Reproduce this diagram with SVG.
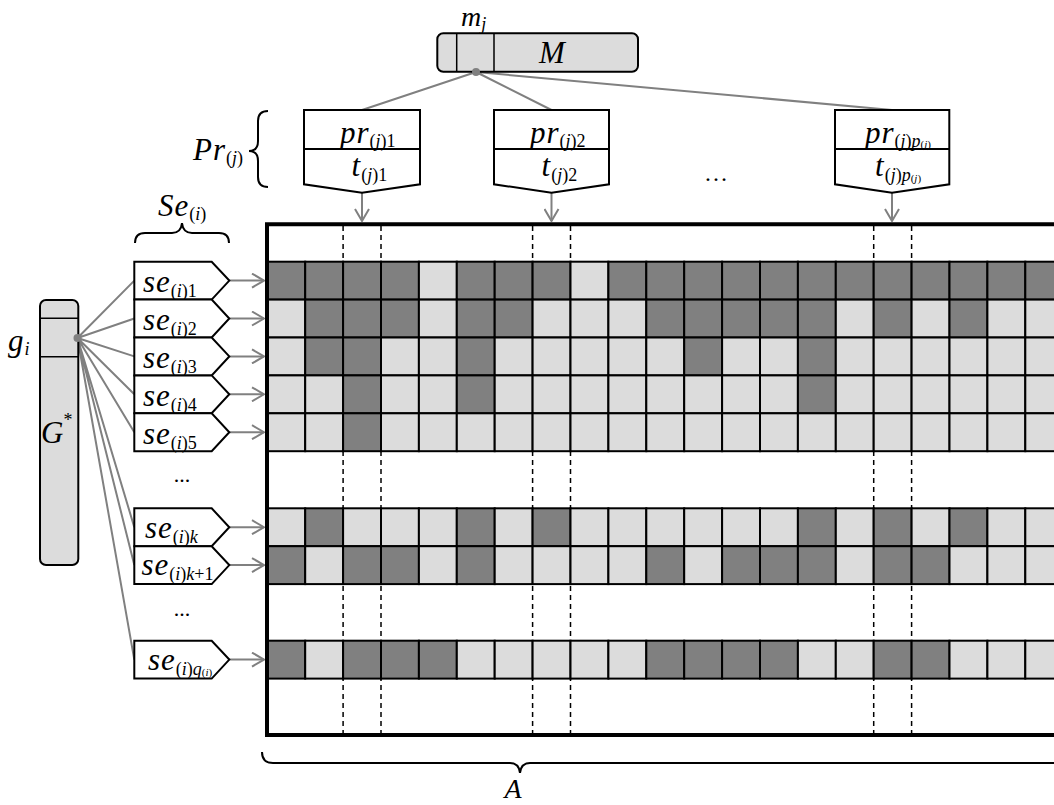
<svg xmlns="http://www.w3.org/2000/svg" width="1054" height="805" viewBox="0 0 1054 805">
<style>
text{font-family:"Liberation Serif",Tinos,"Times New Roman",Times,"DejaVu Serif",serif;fill:#000}
.it{font-style:italic}
.big{font-size:31px;font-style:italic;letter-spacing:1px}
.sub{font-size:18px}
.tiny{font-size:11px}
.d{fill:#808080;stroke:#000;stroke-width:2}
.l{fill:#dcdcdc;stroke:#000;stroke-width:2}
.box{fill:#fff;stroke:#000;stroke-width:2}
.gbox{fill:#dcdcdc;stroke:#000;stroke-width:2}
.con{stroke:#808080;stroke-width:2;fill:none}
.dash{stroke:#000;stroke-width:1.5;stroke-dasharray:5 4;fill:none}
.brace{stroke:#000;stroke-width:2;fill:none}
</style>
<defs>
<marker id="arr" viewBox="0 0 14 16" refX="13" refY="8" markerWidth="14" markerHeight="16" markerUnits="userSpaceOnUse" orient="auto">
<path d="M1,1 L13,8 L1,15" fill="none" stroke="#808080" stroke-width="2"/>
</marker>
</defs>
<rect width="1054" height="805" fill="#fff"/>

<!-- matrix A -->
<g id="matrix">
<path class="dash" d="M343.1,226 V733 M381,226 V733 M532.6,226 V733 M570.5,226 V733 M873.7,226 V733 M911.6,226 V733"/>
<g id="row1">
<rect class="d" x="267.3" y="261.7" width="37.9" height="37.9"/><rect class="d" x="305.2" y="261.7" width="37.9" height="37.9"/><rect class="d" x="343.1" y="261.7" width="37.9" height="37.9"/><rect class="d" x="381" y="261.7" width="37.9" height="37.9"/><rect class="l" x="418.9" y="261.7" width="37.9" height="37.9"/><rect class="d" x="456.8" y="261.7" width="37.9" height="37.9"/><rect class="d" x="494.7" y="261.7" width="37.9" height="37.9"/><rect class="d" x="532.6" y="261.7" width="37.9" height="37.9"/><rect class="l" x="570.5" y="261.7" width="37.9" height="37.9"/><rect class="d" x="608.4" y="261.7" width="37.9" height="37.9"/><rect class="d" x="646.3" y="261.7" width="37.9" height="37.9"/><rect class="d" x="684.2" y="261.7" width="37.9" height="37.9"/><rect class="d" x="722.1" y="261.7" width="37.9" height="37.9"/><rect class="d" x="760" y="261.7" width="37.9" height="37.9"/><rect class="d" x="797.9" y="261.7" width="37.9" height="37.9"/><rect class="d" x="835.8" y="261.7" width="37.9" height="37.9"/><rect class="d" x="873.7" y="261.7" width="37.9" height="37.9"/><rect class="d" x="911.6" y="261.7" width="37.9" height="37.9"/><rect class="d" x="949.5" y="261.7" width="37.9" height="37.9"/><rect class="d" x="987.4" y="261.7" width="37.9" height="37.9"/><rect class="d" x="1025.3" y="261.7" width="37.9" height="37.9"/>
</g>
<g id="row2">
<rect class="l" x="267.3" y="299.6" width="37.9" height="37.9"/><rect class="d" x="305.2" y="299.6" width="37.9" height="37.9"/><rect class="d" x="343.1" y="299.6" width="37.9" height="37.9"/><rect class="d" x="381" y="299.6" width="37.9" height="37.9"/><rect class="l" x="418.9" y="299.6" width="37.9" height="37.9"/><rect class="d" x="456.8" y="299.6" width="37.9" height="37.9"/><rect class="d" x="494.7" y="299.6" width="37.9" height="37.9"/><rect class="l" x="532.6" y="299.6" width="37.9" height="37.9"/><rect class="l" x="570.5" y="299.6" width="37.9" height="37.9"/><rect class="l" x="608.4" y="299.6" width="37.9" height="37.9"/><rect class="d" x="646.3" y="299.6" width="37.9" height="37.9"/><rect class="d" x="684.2" y="299.6" width="37.9" height="37.9"/><rect class="d" x="722.1" y="299.6" width="37.9" height="37.9"/><rect class="d" x="760" y="299.6" width="37.9" height="37.9"/><rect class="d" x="797.9" y="299.6" width="37.9" height="37.9"/><rect class="l" x="835.8" y="299.6" width="37.9" height="37.9"/><rect class="d" x="873.7" y="299.6" width="37.9" height="37.9"/><rect class="l" x="911.6" y="299.6" width="37.9" height="37.9"/><rect class="d" x="949.5" y="299.6" width="37.9" height="37.9"/><rect class="l" x="987.4" y="299.6" width="37.9" height="37.9"/><rect class="l" x="1025.3" y="299.6" width="37.9" height="37.9"/>
</g>
<g id="row3">
<rect class="l" x="267.3" y="337.5" width="37.9" height="37.9"/><rect class="d" x="305.2" y="337.5" width="37.9" height="37.9"/><rect class="d" x="343.1" y="337.5" width="37.9" height="37.9"/><rect class="l" x="381" y="337.5" width="37.9" height="37.9"/><rect class="l" x="418.9" y="337.5" width="37.9" height="37.9"/><rect class="d" x="456.8" y="337.5" width="37.9" height="37.9"/><rect class="l" x="494.7" y="337.5" width="37.9" height="37.9"/><rect class="l" x="532.6" y="337.5" width="37.9" height="37.9"/><rect class="l" x="570.5" y="337.5" width="37.9" height="37.9"/><rect class="l" x="608.4" y="337.5" width="37.9" height="37.9"/><rect class="l" x="646.3" y="337.5" width="37.9" height="37.9"/><rect class="d" x="684.2" y="337.5" width="37.9" height="37.9"/><rect class="l" x="722.1" y="337.5" width="37.9" height="37.9"/><rect class="l" x="760" y="337.5" width="37.9" height="37.9"/><rect class="d" x="797.9" y="337.5" width="37.9" height="37.9"/><rect class="l" x="835.8" y="337.5" width="37.9" height="37.9"/><rect class="l" x="873.7" y="337.5" width="37.9" height="37.9"/><rect class="l" x="911.6" y="337.5" width="37.9" height="37.9"/><rect class="l" x="949.5" y="337.5" width="37.9" height="37.9"/><rect class="l" x="987.4" y="337.5" width="37.9" height="37.9"/><rect class="l" x="1025.3" y="337.5" width="37.9" height="37.9"/>
</g>
<g id="row4">
<rect class="l" x="267.3" y="375.4" width="37.9" height="37.9"/><rect class="l" x="305.2" y="375.4" width="37.9" height="37.9"/><rect class="d" x="343.1" y="375.4" width="37.9" height="37.9"/><rect class="l" x="381" y="375.4" width="37.9" height="37.9"/><rect class="l" x="418.9" y="375.4" width="37.9" height="37.9"/><rect class="d" x="456.8" y="375.4" width="37.9" height="37.9"/><rect class="l" x="494.7" y="375.4" width="37.9" height="37.9"/><rect class="l" x="532.6" y="375.4" width="37.9" height="37.9"/><rect class="l" x="570.5" y="375.4" width="37.9" height="37.9"/><rect class="l" x="608.4" y="375.4" width="37.9" height="37.9"/><rect class="l" x="646.3" y="375.4" width="37.9" height="37.9"/><rect class="l" x="684.2" y="375.4" width="37.9" height="37.9"/><rect class="l" x="722.1" y="375.4" width="37.9" height="37.9"/><rect class="l" x="760" y="375.4" width="37.9" height="37.9"/><rect class="d" x="797.9" y="375.4" width="37.9" height="37.9"/><rect class="l" x="835.8" y="375.4" width="37.9" height="37.9"/><rect class="l" x="873.7" y="375.4" width="37.9" height="37.9"/><rect class="l" x="911.6" y="375.4" width="37.9" height="37.9"/><rect class="l" x="949.5" y="375.4" width="37.9" height="37.9"/><rect class="l" x="987.4" y="375.4" width="37.9" height="37.9"/><rect class="l" x="1025.3" y="375.4" width="37.9" height="37.9"/>
</g>
<g id="row5">
<rect class="l" x="267.3" y="413.3" width="37.9" height="37.9"/><rect class="l" x="305.2" y="413.3" width="37.9" height="37.9"/><rect class="d" x="343.1" y="413.3" width="37.9" height="37.9"/><rect class="l" x="381" y="413.3" width="37.9" height="37.9"/><rect class="l" x="418.9" y="413.3" width="37.9" height="37.9"/><rect class="l" x="456.8" y="413.3" width="37.9" height="37.9"/><rect class="l" x="494.7" y="413.3" width="37.9" height="37.9"/><rect class="l" x="532.6" y="413.3" width="37.9" height="37.9"/><rect class="l" x="570.5" y="413.3" width="37.9" height="37.9"/><rect class="l" x="608.4" y="413.3" width="37.9" height="37.9"/><rect class="l" x="646.3" y="413.3" width="37.9" height="37.9"/><rect class="l" x="684.2" y="413.3" width="37.9" height="37.9"/><rect class="l" x="722.1" y="413.3" width="37.9" height="37.9"/><rect class="l" x="760" y="413.3" width="37.9" height="37.9"/><rect class="l" x="797.9" y="413.3" width="37.9" height="37.9"/><rect class="l" x="835.8" y="413.3" width="37.9" height="37.9"/><rect class="l" x="873.7" y="413.3" width="37.9" height="37.9"/><rect class="l" x="911.6" y="413.3" width="37.9" height="37.9"/><rect class="l" x="949.5" y="413.3" width="37.9" height="37.9"/><rect class="l" x="987.4" y="413.3" width="37.9" height="37.9"/><rect class="l" x="1025.3" y="413.3" width="37.9" height="37.9"/>
</g>
<g id="rowk">
<rect class="l" x="267.3" y="508.3" width="37.9" height="37.9"/><rect class="d" x="305.2" y="508.3" width="37.9" height="37.9"/><rect class="l" x="343.1" y="508.3" width="37.9" height="37.9"/><rect class="l" x="381" y="508.3" width="37.9" height="37.9"/><rect class="l" x="418.9" y="508.3" width="37.9" height="37.9"/><rect class="d" x="456.8" y="508.3" width="37.9" height="37.9"/><rect class="l" x="494.7" y="508.3" width="37.9" height="37.9"/><rect class="d" x="532.6" y="508.3" width="37.9" height="37.9"/><rect class="l" x="570.5" y="508.3" width="37.9" height="37.9"/><rect class="l" x="608.4" y="508.3" width="37.9" height="37.9"/><rect class="l" x="646.3" y="508.3" width="37.9" height="37.9"/><rect class="l" x="684.2" y="508.3" width="37.9" height="37.9"/><rect class="l" x="722.1" y="508.3" width="37.9" height="37.9"/><rect class="l" x="760" y="508.3" width="37.9" height="37.9"/><rect class="d" x="797.9" y="508.3" width="37.9" height="37.9"/><rect class="l" x="835.8" y="508.3" width="37.9" height="37.9"/><rect class="d" x="873.7" y="508.3" width="37.9" height="37.9"/><rect class="l" x="911.6" y="508.3" width="37.9" height="37.9"/><rect class="d" x="949.5" y="508.3" width="37.9" height="37.9"/><rect class="l" x="987.4" y="508.3" width="37.9" height="37.9"/><rect class="l" x="1025.3" y="508.3" width="37.9" height="37.9"/>
</g>
<g id="rowk1">
<rect class="d" x="267.3" y="546.2" width="37.9" height="37.9"/><rect class="l" x="305.2" y="546.2" width="37.9" height="37.9"/><rect class="d" x="343.1" y="546.2" width="37.9" height="37.9"/><rect class="d" x="381" y="546.2" width="37.9" height="37.9"/><rect class="l" x="418.9" y="546.2" width="37.9" height="37.9"/><rect class="d" x="456.8" y="546.2" width="37.9" height="37.9"/><rect class="l" x="494.7" y="546.2" width="37.9" height="37.9"/><rect class="l" x="532.6" y="546.2" width="37.9" height="37.9"/><rect class="l" x="570.5" y="546.2" width="37.9" height="37.9"/><rect class="l" x="608.4" y="546.2" width="37.9" height="37.9"/><rect class="d" x="646.3" y="546.2" width="37.9" height="37.9"/><rect class="l" x="684.2" y="546.2" width="37.9" height="37.9"/><rect class="d" x="722.1" y="546.2" width="37.9" height="37.9"/><rect class="d" x="760" y="546.2" width="37.9" height="37.9"/><rect class="d" x="797.9" y="546.2" width="37.9" height="37.9"/><rect class="l" x="835.8" y="546.2" width="37.9" height="37.9"/><rect class="d" x="873.7" y="546.2" width="37.9" height="37.9"/><rect class="d" x="911.6" y="546.2" width="37.9" height="37.9"/><rect class="l" x="949.5" y="546.2" width="37.9" height="37.9"/><rect class="l" x="987.4" y="546.2" width="37.9" height="37.9"/><rect class="l" x="1025.3" y="546.2" width="37.9" height="37.9"/>
</g>
<g id="rowq">
<rect class="d" x="267.3" y="640.7" width="37.9" height="37.9"/><rect class="l" x="305.2" y="640.7" width="37.9" height="37.9"/><rect class="d" x="343.1" y="640.7" width="37.9" height="37.9"/><rect class="d" x="381" y="640.7" width="37.9" height="37.9"/><rect class="d" x="418.9" y="640.7" width="37.9" height="37.9"/><rect class="l" x="456.8" y="640.7" width="37.9" height="37.9"/><rect class="l" x="494.7" y="640.7" width="37.9" height="37.9"/><rect class="l" x="532.6" y="640.7" width="37.9" height="37.9"/><rect class="l" x="570.5" y="640.7" width="37.9" height="37.9"/><rect class="l" x="608.4" y="640.7" width="37.9" height="37.9"/><rect class="d" x="646.3" y="640.7" width="37.9" height="37.9"/><rect class="d" x="684.2" y="640.7" width="37.9" height="37.9"/><rect class="d" x="722.1" y="640.7" width="37.9" height="37.9"/><rect class="d" x="760" y="640.7" width="37.9" height="37.9"/><rect class="l" x="797.9" y="640.7" width="37.9" height="37.9"/><rect class="l" x="835.8" y="640.7" width="37.9" height="37.9"/><rect class="d" x="873.7" y="640.7" width="37.9" height="37.9"/><rect class="d" x="911.6" y="640.7" width="37.9" height="37.9"/><rect class="l" x="949.5" y="640.7" width="37.9" height="37.9"/><rect class="l" x="987.4" y="640.7" width="37.9" height="37.9"/><rect class="l" x="1025.3" y="640.7" width="37.9" height="37.9"/>
</g>
<path d="M1060,224.3 H267 V735 H1060" fill="none" stroke="#000" stroke-width="4"/>
</g>

<!-- connectors -->
<g id="connectors">
<path class="con" d="M476,72 L362,110 M476,72 L551.5,110 M476,72 L892,110"/>
<path class="con" d="M77.5,338 L134.3,280.6 M77.5,338 L134.3,318.5 M77.5,338 L134.3,356.4 M77.5,338 L134.3,394.3 M77.5,338 L134.3,432.2 M77.5,338 L134.3,527.2 M77.5,338 L134.3,565.1 M77.5,338 L134.3,659.6"/>
<line class="con" x1="362" y1="193" x2="362" y2="221" marker-end="url(#arr)"/>
<line class="con" x1="551.5" y1="193" x2="551.5" y2="221" marker-end="url(#arr)"/>
<line class="con" x1="892" y1="193" x2="892" y2="221" marker-end="url(#arr)"/>
<line class="con" x1="229.3" y1="280.6" x2="264" y2="280.6" marker-end="url(#arr)"/>
<line class="con" x1="229.3" y1="318.5" x2="264" y2="318.5" marker-end="url(#arr)"/>
<line class="con" x1="229.3" y1="356.4" x2="264" y2="356.4" marker-end="url(#arr)"/>
<line class="con" x1="229.3" y1="394.3" x2="264" y2="394.3" marker-end="url(#arr)"/>
<line class="con" x1="229.3" y1="432.2" x2="264" y2="432.2" marker-end="url(#arr)"/>
<line class="con" x1="229.3" y1="527.2" x2="264" y2="527.2" marker-end="url(#arr)"/>
<line class="con" x1="229.3" y1="565.1" x2="264" y2="565.1" marker-end="url(#arr)"/>
<line class="con" x1="229.3" y1="659.6" x2="264" y2="659.6" marker-end="url(#arr)"/>
</g>

<!-- M -->
<g id="M">
<rect class="gbox" x="437.3" y="33.3" width="200.7" height="38.4" rx="6"/>
<path d="M456.7,33.3 V71.7 M494,33.3 V71.7" stroke="#000" stroke-width="1.5"/>
<text x="539" y="63" style="font-size:31px;font-style:italic">M</text>
<text x="461" y="26"><tspan style="font-size:28px;font-style:italic">m</tspan><tspan class="sub it" dy="4">j</tspan></text>
<circle cx="476" cy="72" r="4" fill="#808080"/>
</g>

<!-- G -->
<g id="G">
<rect class="gbox" x="40" y="300" width="38.3" height="265" rx="6"/>
<path d="M40,318.3 H78.3 M40,356.7 H78.3" stroke="#000" stroke-width="1.5"/>
<text x="41" y="443" style="font-size:31px;font-style:italic">G<tspan class="sub" style="font-style:normal" dy="-17">*</tspan></text>
<text x="8" y="351"><tspan class="big">g</tspan><tspan class="sub it" dy="4">i</tspan></text>
<circle cx="77.5" cy="338" r="4" fill="#808080"/>
</g>

<!-- Pr boxes -->
<g id="pr1">
<path class="box" d="M304,110 H420 V184.3 L362,192.7 L304,184.3 Z"/>
<line x1="304" y1="149" x2="420" y2="149" stroke="#000" stroke-width="2"/>
<text x="340" y="143"><tspan class="big">pr</tspan><tspan class="sub" dy="4">(<tspan class="it">j</tspan>)1</tspan></text>
<text x="351.5" y="176"><tspan class="big">t</tspan><tspan class="sub" dy="5">(<tspan class="it">j</tspan>)1</tspan></text>
</g>
<g id="pr2">
<path class="box" d="M494,110 H609 V184.3 L551.5,192.7 L494,184.3 Z"/>
<line x1="494" y1="149" x2="609" y2="149" stroke="#000" stroke-width="2"/>
<text x="530" y="143"><tspan class="big">pr</tspan><tspan class="sub" dy="4">(<tspan class="it">j</tspan>)2</tspan></text>
<text x="541.5" y="176"><tspan class="big">t</tspan><tspan class="sub" dy="5">(<tspan class="it">j</tspan>)2</tspan></text>
</g>
<g id="prp">
<path class="box" d="M835,110 H949.3 V184.3 L892,192.7 L835,184.3 Z"/>
<line x1="835" y1="149" x2="949.3" y2="149" stroke="#000" stroke-width="2"/>
<text x="865" y="143"><tspan class="big">pr</tspan><tspan class="sub" dy="4">(<tspan class="it">j</tspan>)<tspan class="it">p</tspan></tspan><tspan class="tiny" dy="1">(<tspan class="it">j</tspan>)</tspan></text>
<text x="875" y="176"><tspan class="big">t</tspan><tspan class="sub" dy="5">(<tspan class="it">j</tspan>)<tspan class="it">p</tspan></tspan><tspan class="tiny" dy="1">(<tspan class="it">j</tspan>)</tspan></text>
</g>
<text x="716" y="181" text-anchor="middle" style="font-size:24px">…</text>
<g id="Pr">
<path class="brace" d="M268,111 Q258,111 258,121 L258,141 Q258,151 249,151 Q258,151 258,161 L258,177 Q258,187 268,187"/>
<text x="193" y="160"><tspan class="big">Pr</tspan><tspan class="sub" dy="4">(<tspan class="it">j</tspan>)</tspan></text>
</g>

<!-- Se boxes -->
<g id="Se">
<path class="brace" d="M135,243 Q135,233 145,233 L172,233 Q181,233 182,223 Q183,233 192,233 L219,233 Q229,233 229,243"/>
<text x="158" y="216"><tspan class="big">Se</tspan><tspan class="sub" dy="4">(<tspan class="it">i</tspan>)</tspan></text>
</g>
<g id="se1">
<path class="box" d="M134.3,261.7 H211.7 L229.3,280.6 L211.7,299.6 H134.3 Z"/>
<text x="143" y="292"><tspan class="big">se</tspan><tspan class="sub" dy="5">(<tspan class="it">i</tspan>)1</tspan></text>
</g>
<g id="se2">
<path class="box" d="M134.3,299.6 H211.7 L229.3,318.5 L211.7,337.5 H134.3 Z"/>
<text x="143" y="330"><tspan class="big">se</tspan><tspan class="sub" dy="5">(<tspan class="it">i</tspan>)2</tspan></text>
</g>
<g id="se3">
<path class="box" d="M134.3,337.5 H211.7 L229.3,356.4 L211.7,375.4 H134.3 Z"/>
<text x="143" y="368"><tspan class="big">se</tspan><tspan class="sub" dy="5">(<tspan class="it">i</tspan>)3</tspan></text>
</g>
<g id="se4">
<path class="box" d="M134.3,375.4 H211.7 L229.3,394.3 L211.7,413.3 H134.3 Z"/>
<text x="143" y="406"><tspan class="big">se</tspan><tspan class="sub" dy="5">(<tspan class="it">i</tspan>)4</tspan></text>
</g>
<g id="se5">
<path class="box" d="M134.3,413.3 H211.7 L229.3,432.2 L211.7,451.2 H134.3 Z"/>
<text x="143" y="444"><tspan class="big">se</tspan><tspan class="sub" dy="5">(<tspan class="it">i</tspan>)5</tspan></text>
</g>
<text x="182" y="482" text-anchor="middle" style="font-size:22px">...</text>
<g id="sek">
<path class="box" d="M134.3,508.3 H211.7 L229.3,527.2 L211.7,546.2 H134.3 Z"/>
<text x="145" y="538"><tspan class="big">se</tspan><tspan class="sub" dy="5">(<tspan class="it">i</tspan>)<tspan class="it">k</tspan></tspan></text>
</g>
<g id="sek1">
<path class="box" d="M134.3,546.2 H211.7 L229.3,565.1 L211.7,584.1 H134.3 Z"/>
<text x="141.5" y="575"><tspan class="big">se</tspan><tspan class="sub" dy="5">(<tspan class="it">i</tspan>)<tspan class="it">k</tspan>+1</tspan></text>
</g>
<text x="182" y="616" text-anchor="middle" style="font-size:22px">...</text>
<g id="seq">
<path class="box" d="M134.3,640.7 H211.7 L229.3,659.6 L211.7,678.6 H134.3 Z"/>
<text x="148" y="670"><tspan class="big">se</tspan><tspan class="sub" dy="5">(<tspan class="it">i</tspan>)<tspan class="it">q</tspan></tspan><tspan class="tiny" dy="1">(<tspan class="it">i</tspan>)</tspan></text>
</g>

<!-- A brace -->
<g id="A">
<path class="brace" d="M262,752 Q262,763 273,763 L510,763 Q519,763 520,773 Q521,763 530,763 L1060,763"/>
<text x="513" y="798" text-anchor="middle" style="font-size:28px;font-style:italic">A</text>
</g>
</svg>
